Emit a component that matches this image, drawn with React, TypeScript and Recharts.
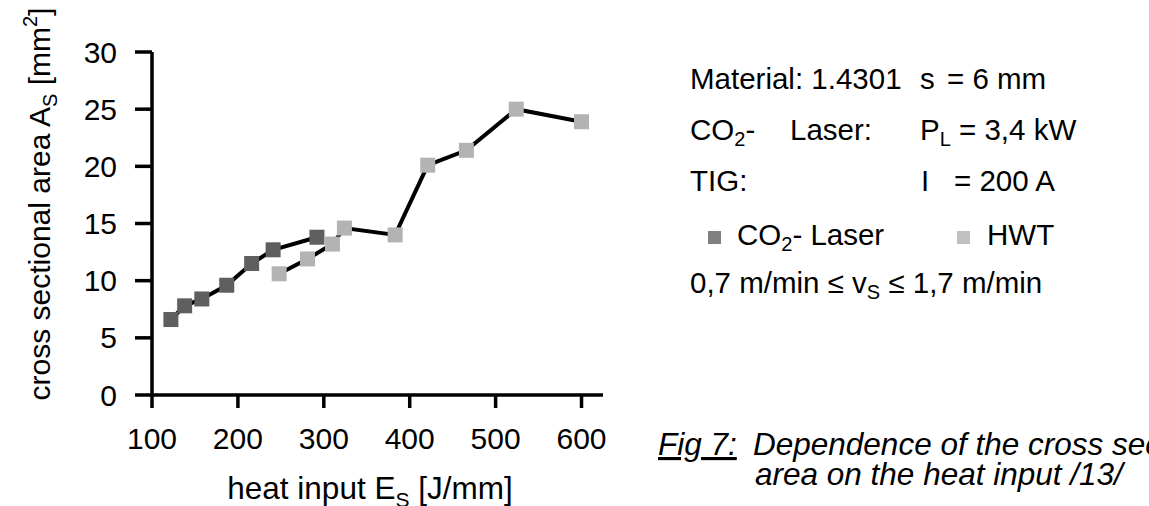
import { LineChart, Line, XAxis, YAxis } from 'recharts';

// heat input E_S [J/mm] and cross sectional area A_S [mm²]
const laserHeat = [122, 138, 158, 187, 216, 241, 292];
const laserArea = [6.6, 7.8, 8.4, 9.6, 11.5, 12.7, 13.8];
const hwtHeat = [248, 281, 310, 324, 383, 421, 466, 524, 600];
const hwtArea = [10.6, 11.9, 13.2, 14.6, 14.0, 20.1, 21.4, 25.0, 23.9];

const xTicks = [100, 200, 300, 400, 500, 600];
const yTicks = [0, 5, 10, 15, 20, 25, 30];

const laserData = laserHeat.map((x, i) => ({ x, y: laserArea[i] }));
const hwtData = hwtHeat.map((x, i) => ({ x, y: hwtArea[i] }));

const FONT = '"Liberation Sans", Arial, Helvetica, sans-serif';
const DARK = '#5f5f5f';
const LIGHT = '#b3b3b3';

const squareDot = (fill: string, prefix: string) => (props: any) => {
  const { cx, cy, index } = props;
  return <rect key={`${prefix}-${index}`} x={cx - 7.5} y={cy - 7.5} width={15} height={15} fill={fill} />;
};

const axisStyle = { stroke: '#000', strokeWidth: 3.5 };
const tickStyle = { fill: '#000', fontSize: 30, fontFamily: FONT };

export default function App() {
  return (
    <div style={{ position: 'absolute', left: 0, top: 0, width: 1149, height: 506, background: '#fff', overflow: 'hidden' }}>
      <LineChart width={1149} height={506} margin={{ top: 52, right: 546, bottom: 51, left: 0 }}>
        <XAxis
          type="number"
          dataKey="x"
          domain={[100, 625]}
          ticks={xTicks}
          allowDataOverflow
          height={60}
          tickSize={13}
          tickMargin={20}
          axisLine={axisStyle}
          tickLine={axisStyle}
          tick={tickStyle}
        />
        <YAxis
          type="number"
          dataKey="y"
          domain={[0, 30]}
          ticks={yTicks}
          width={152}
          tickSize={17}
          tickMargin={18}
          axisLine={axisStyle}
          tickLine={axisStyle}
          tick={tickStyle}
        />
        <Line data={laserData} dataKey="y" stroke="#000" strokeWidth={4} dot={squareDot(DARK, 'l')} activeDot={false} isAnimationActive={false} />
        <Line data={hwtData} dataKey="y" stroke="#000" strokeWidth={4} dot={squareDot(LIGHT, 'h')} activeDot={false} isAnimationActive={false} />
      </LineChart>

      <svg width={1149} height={506} style={{ position: 'absolute', left: 0, top: 0, pointerEvents: 'none' }} fontFamily={FONT} fill="#000">
        {/* axis titles */}
        <text x={370} y={499} fontSize={31.5} textAnchor="middle">
          heat input E<tspan dy={8} fontSize={21}>S</tspan>
          <tspan dy={-8}> [J/mm]</tspan>
        </text>
        <text transform="translate(50,204) rotate(-90)" fontSize={30} textAnchor="middle">
          cross sectional area A<tspan dy={7} fontSize={20}>S</tspan>
          <tspan dy={-7}> [mm</tspan>
          <tspan dy={-13} fontSize={20}>2</tspan>
          <tspan dy={13}>]</tspan>
        </text>

        {/* process parameters */}
        <g fontSize={29.5}>
          <text x={690} y={89}>Material: 1.4301</text>
          <text x={920} y={89}>s</text>
          <text x={947} y={89}>= 6 mm</text>

          <text x={690} y={140}>CO<tspan dy={6} fontSize={20}>2</tspan><tspan dy={-6}>-</tspan></text>
          <text x={790} y={140}>Laser:</text>
          <text x={920} y={140}>P<tspan dy={6} fontSize={20}>L</tspan><tspan dy={-6}> = 3,4 kW</tspan></text>

          <text x={690} y={191}>TIG:</text>
          <text x={921} y={191}>I</text>
          <text x={954} y={191}>= 200 A</text>

          <rect x={708} y={231} width={13} height={13} fill="#808080" />
          <text x={737} y={245}>CO<tspan dy={6} fontSize={20}>2</tspan><tspan dy={-6}>- Laser</tspan></text>
          <rect x={957} y={231} width={13} height={13} fill="#c0c0c0" />
          <text x={987} y={245}>HWT</text>

          <text x={690} y={293}>0,7 m/min ≤ v<tspan dy={6} fontSize={20}>S</tspan><tspan dy={-6}> ≤ 1,7 m/min</tspan></text>
        </g>

        {/* caption */}
        <g fontSize={31.5} fontStyle="italic">
          <text x={658} y={455} textDecoration="underline">Fig 7:</text>
          <text x={753} y={455}>Dependence of the cross sectional</text>
          <text x={755} y={485}>area on the heat input /13/</text>
        </g>
      </svg>
    </div>
  );
}
